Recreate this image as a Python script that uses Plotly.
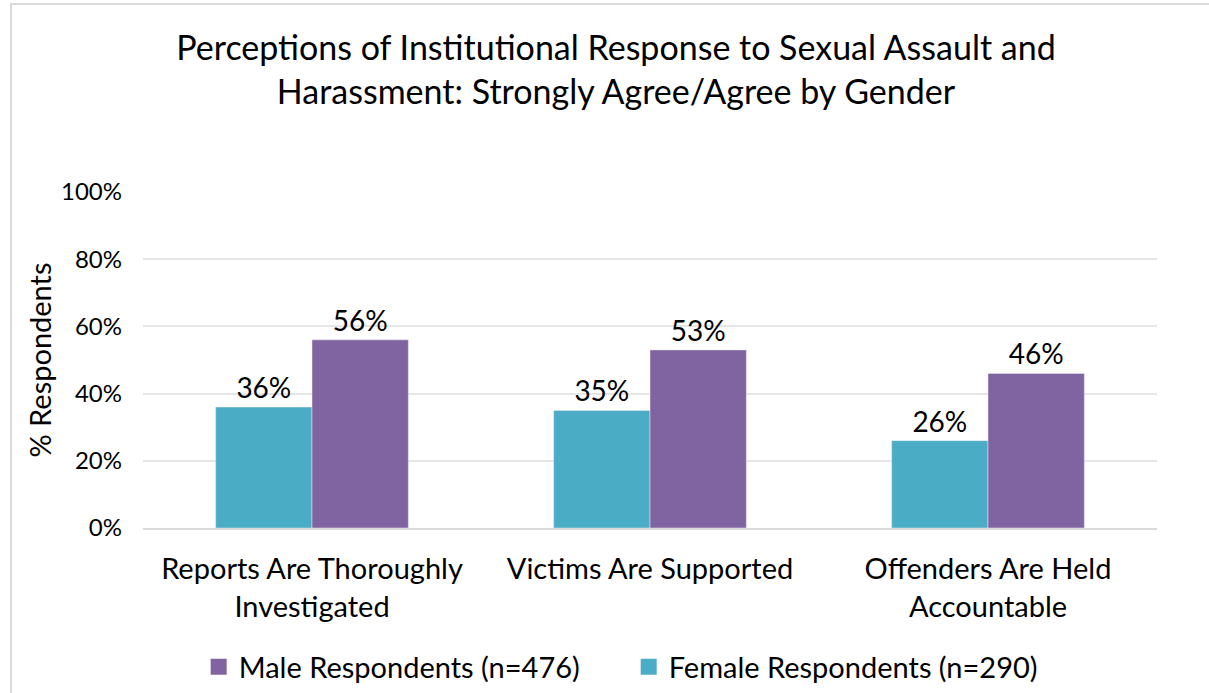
import plotly.graph_objects as go

categories = ["Reports Are Thoroughly<br>Investigated", "Victims Are Supported", "Offenders Are Held<br>Accountable"]
female = [36, 35, 26]
male = [56, 53, 46]
female_name = "Female Respondents (n=290)"
male_name = "Male Respondents (n=476)"
yticks = [0, 20, 40, 60, 80, 100]
yticklabels = ["0%", "20%", "40%", "60%", "80%", "100%"]

FONT = "Lato, 'Noto Sans', sans-serif"
TEAL = "#4BACC6"
PURPLE = "#8064A2"

fig = go.Figure()
fig.add_trace(go.Bar(x=categories, y=female, name=female_name, marker_color=TEAL,
                     text=[f"{v}%" for v in female], textposition="outside",
                     textfont=dict(size=28, color="#000000"), cliponaxis=False,
                     showlegend=False))
fig.add_trace(go.Bar(x=categories, y=male, name=male_name, marker_color=PURPLE,
                     text=[f"{v}%" for v in male], textposition="outside",
                     textfont=dict(size=28, color="#000000"), cliponaxis=False,
                     showlegend=False))
# legend entries with larger square symbols
fig.add_trace(go.Scatter(x=[None], y=[None], mode="markers", name=male_name,
                         marker=dict(symbol="square", size=18, color=PURPLE)))
fig.add_trace(go.Scatter(x=[None], y=[None], mode="markers", name=female_name,
                         marker=dict(symbol="square", size=18, color=TEAL)))

fig.update_layout(
    width=1209, height=693,
    margin=dict(l=143, r=52, t=192, b=165),
    paper_bgcolor="white", plot_bgcolor="white",
    font=dict(family=FONT, color="#000000"),
    title=dict(text="Perceptions of Institutional Response to Sexual Assault and<br>Harassment: Strongly Agree/Agree by Gender",
               xref="container", x=0.5095, xanchor="center",
               yref="container", y=0.913, yanchor="top",
               font=dict(size=34, family=FONT, color="#000000")),
    barmode="group", bargap=0.43, bargroupgap=0,
    showlegend=True,
    legend=dict(orientation="h", xref="container", x=0.520, xanchor="center",
                yref="container", y=1 - 667 / 693, yanchor="middle",
                font=dict(size=29), itemwidth=30, entrywidth=385, entrywidthmode="pixels",
                bgcolor="rgba(0,0,0,0)"),
    xaxis=dict(tickfont=dict(size=29), showline=True, linecolor="#D9D9D9", linewidth=2,
               ticks="", automargin=False, fixedrange=True, ticklabelstandoff=14),
    yaxis=dict(range=[0, 100], tickvals=yticks, ticktext=yticklabels,
               tickfont=dict(size=24), showgrid=True, gridcolor="#E6E6E6", gridwidth=2,
               zeroline=False, ticks="", ticklen=0, automargin=False, ticklabelstandoff=20,
               fixedrange=True,
               title=dict(text="% Respondents", font=dict(size=29), standoff=0)),
)

# outer chart border
fig.add_shape(type="rect", xref="paper", yref="paper",
              x0=(11 - 143) / 1014, x1=1.3, y0=-2, y1=1 + (192 - 4) / 336,
              line=dict(color="#D9D9D9", width=2), fillcolor="rgba(0,0,0,0)", layer="below")

fig.write_html("out.html", config={"displayModeBar": False},
               post_script="document.body.style.margin='0';document.body.style.overflow='hidden';")
